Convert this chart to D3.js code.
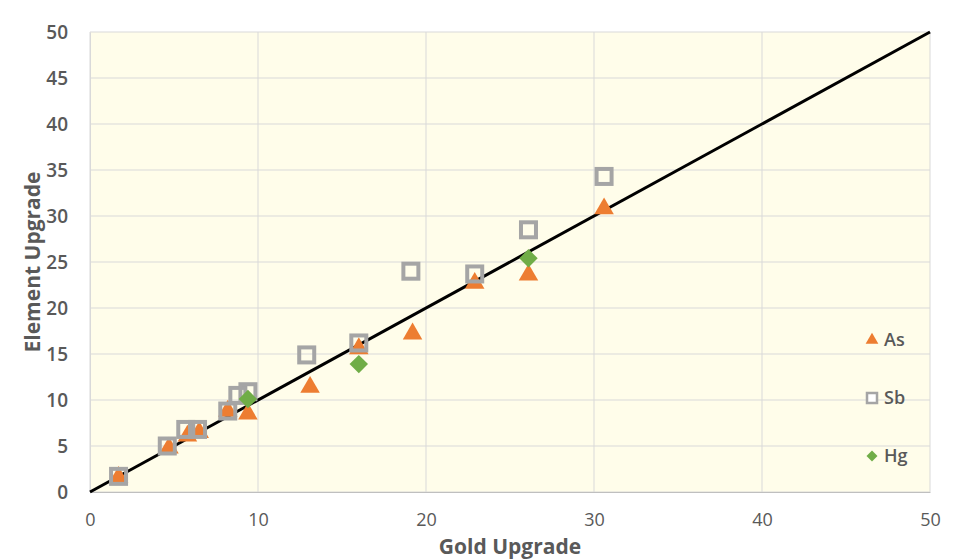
<!DOCTYPE html>
<html>
<head>
<meta charset="utf-8">
<script src="https://cdn.jsdelivr.net/npm/d3@7"></script>
<style>
  body { margin: 0; background: #fff; }
  text { font-family: "Open Sans", "Noto Sans", sans-serif; fill: #595959; }
</style>
</head>
<body>
<div id="chart"></div>
<script>
// Gold upgrade (x) vs element upgrade (y), per element
const asGold = [1.7, 4.7, 5.8, 6.5, 8.2, 9.4, 13.1, 16.0, 19.2, 22.9, 26.1, 30.6];
const asElem = [1.7, 4.9, 6.2, 6.6, 8.9, 8.6, 11.5, 15.7, 17.3, 22.8, 23.7, 30.9];
const sbGold = [1.7, 4.6, 5.7, 6.4, 8.2, 8.8, 9.4, 12.9, 16.0, 19.1, 22.9, 26.1, 30.6];
const sbElem = [1.7, 5.0, 6.8, 6.8, 8.8, 10.5, 10.9, 14.9, 16.2, 24.0, 23.7, 28.5, 34.3];
const hgGold = [9.4, 16.0, 26.1];
const hgElem = [10.1, 13.9, 25.4];
const xTicks = [0, 10, 20, 30, 40, 50];
const yTicks = [0, 5, 10, 15, 20, 25, 30, 35, 40, 45, 50];
const seriesNames = ["As", "Sb", "Hg"];

const width = 957, height = 560;
const margin = {top: 32, right: 27, bottom: 68, left: 90};

const svg = d3.select("#chart").append("svg")
    .attr("width", width)
    .attr("height", height);

const x = d3.scaleLinear().domain([0, 50]).range([margin.left, width - margin.right]);
const y = d3.scaleLinear().domain([0, 50]).range([height - margin.bottom, margin.top]);

// plot area background
svg.append("rect")
    .attr("x", x(0)).attr("y", y(50))
    .attr("width", x(50) - x(0)).attr("height", y(0) - y(50))
    .attr("fill", "#fffdea");

// gridlines
svg.append("g")
    .selectAll("line")
    .data(yTicks)
    .join("line")
    .attr("x1", x(0)).attr("x2", x(50))
    .attr("y1", d => y(d)).attr("y2", d => y(d))
    .attr("stroke", "#d9d9d9").attr("stroke-width", 1);

svg.append("g")
    .selectAll("line")
    .data(xTicks)
    .join("line")
    .attr("y1", y(0)).attr("y2", y(50))
    .attr("x1", d => x(d)).attr("x2", d => x(d))
    .attr("stroke", "#d9d9d9").attr("stroke-width", 1);

// axes
const xAxis = svg.append("g")
    .attr("transform", `translate(0,${y(0)})`)
    .call(d3.axisBottom(x).tickValues(xTicks).tickSize(0).tickPadding(21));
xAxis.select(".domain").attr("stroke", "#bfbfbf");
xAxis.selectAll("text").style("font-size", "18px").style("fill", "#595959");

const yAxis = svg.append("g")
    .attr("transform", `translate(${x(0)},0)`)
    .call(d3.axisLeft(y).tickValues(yTicks).tickSize(0).tickPadding(22));
yAxis.select(".domain").attr("stroke", "#d9d9d9");
yAxis.selectAll("text").style("font-size", "19px").style("font-weight", "600").style("fill", "#595959");

// axis titles
svg.append("text")
    .attr("x", (x(0) + x(50)) / 2)
    .attr("y", 554)
    .attr("text-anchor", "middle")
    .style("font-size", "21px")
    .style("font-weight", "700")
    .text("Gold Upgrade");

svg.append("text")
    .attr("transform", `translate(40,${(y(0) + y(50)) / 2}) rotate(-90)`)
    .attr("text-anchor", "middle")
    .style("font-size", "21px")
    .style("font-weight", "700")
    .text("Element Upgrade");

// 1:1 line
svg.append("line")
    .attr("x1", x(0)).attr("y1", y(0))
    .attr("x2", x(50)).attr("y2", y(50))
    .attr("stroke", "#000").attr("stroke-width", 3);

const tri = d3.symbol().type(d3.symbolTriangle).size(165);
const dia = d3.symbol().type(d3.symbolSquare).size(170);

// As
svg.append("g")
    .selectAll("path")
    .data(d3.zip(asGold, asElem))
    .join("path")
    .attr("d", tri)
    .attr("transform", d => `translate(${x(d[0])},${y(d[1]) + 1})`)
    .attr("fill", "#ed7d31");

// Sb
svg.append("g")
    .selectAll("rect")
    .data(d3.zip(sbGold, sbElem))
    .join("rect")
    .attr("x", d => x(d[0]) - 7.5).attr("y", d => y(d[1]) - 7.5)
    .attr("width", 15).attr("height", 15)
    .attr("fill", "none")
    .attr("stroke", "#a5a5a5").attr("stroke-width", 4);

// Hg
svg.append("g")
    .selectAll("path")
    .data(d3.zip(hgGold, hgElem))
    .join("path")
    .attr("d", dia)
    .attr("transform", d => `translate(${x(d[0])},${y(d[1])}) rotate(45)`)
    .attr("fill", "#70ad47");

// legend
const legend = svg.append("g").attr("transform", "translate(872,340)");
const item = legend.selectAll("g")
    .data(seriesNames)
    .join("g")
    .attr("transform", (d, i) => `translate(0,${i * 58})`);

item.filter(d => d === "As").append("path")
    .attr("d", d3.symbol().type(d3.symbolTriangle).size(70))
    .attr("fill", "#ed7d31");
item.filter(d => d === "Sb").append("rect")
    .attr("x", -5).attr("y", -5).attr("width", 10).attr("height", 10)
    .attr("fill", "#fff").attr("stroke", "#a5a5a5").attr("stroke-width", 2.5);
item.filter(d => d === "Hg").append("path")
    .attr("d", d3.symbol().type(d3.symbolSquare).size(60))
    .attr("transform", "rotate(45)")
    .attr("fill", "#70ad47");

item.append("text")
    .attr("x", 12)
    .attr("dy", "0.35em")
    .style("font-size", "18px")
    .style("font-weight", "600")
    .text(d => d);
</script>
</body>
</html>
